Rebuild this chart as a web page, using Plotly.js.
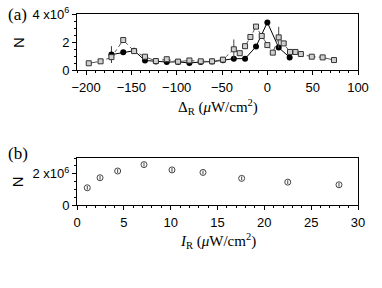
<!DOCTYPE html>
<html>
<head>
<meta charset="utf-8">
<script src="https://cdn.plot.ly/plotly-3.0.1.min.js"></script>
<style>html,body{margin:0;padding:0;background:#fff;}#chart{width:382px;height:288px;}</style>
</head>
<body>
<div id="chart"></div>
<script>
// Panel (a): detuning scan
const sqX = [-197, -184, -172, -159, -147, -135, -123, -111, -98.5, -86, -73.5, -61, -49, -37, -30.5, -24.6, -18.7, -12.5, -6.2, 0, 6, 12.5, 18, 25, 31, 37, 49, 61, 73.5];
const sqY = [0.48, 0.62, 0.92, 2.14, 1.35, 0.95, 0.64, 0.77, 0.6, 0.68, 0.62, 0.62, 0.74, 1.48, 1.2, 1.7, 2.36, 3.1, 2.43, 1.78, 1.24, 2.33, 1.9, 1.29, 1.29, 1.14, 0.95, 0.9, 0.71];
const sqErr = [0.08, 0.1, 0.1, 0.12, 0.1, 0.1, 0.08, 0.1, 0.08, 0.08, 0.08, 0.08, 0.08, 0.7, 0.1, 0.1, 0.12, 0.12, 0.12, 0.1, 0.1, 0.75, 0.1, 0.08, 0.08, 0.08, 0.08, 0.08, 0.08];
const ciX = [-172, -159, -147, -135, -123, -111, -98.5, -86, -73.5, -61, -49, -37, -24.6, -12.5, 0, 12.5, 24.6];
const ciY = [1.1, 1.27, 1.38, 0.68, 0.6, 0.57, 0.58, 0.5, 0.57, 0.6, 0.69, 0.81, 0.81, 1.67, 3.4, 1.6, 0.9];
const ciErr = [0.6, 0, 0, 0, 0, 0, 0, 0, 0, 0, 0, 0, 0, 0, 0, 0, 0];
// Panel (b): intensity scan
const bX = [1.1, 2.46, 4.34, 7.15, 10.14, 13.45, 17.58, 22.5, 27.97];
const bY = [1.1, 1.74, 2.17, 2.58, 2.24, 2.08, 1.7, 1.46, 1.29];
const bErr = [0.12, 0.12, 0.12, 0.12, 0.12, 0.12, 0.12, 0.12, 0.12];
const yTicksA = [0, 2, 4];
const yTextA = ['0', '2', '4 x10<sup>6</sup>'];
const yTicksB = [0, 2];
const yTextB = ['0', '2 x10<sup>6</sup>'];

const traces = [
  {x: ciX, y: ciY, xaxis: 'x', yaxis: 'y', type: 'scatter', mode: 'lines+markers',
   line: {color: '#000', width: 1},
   marker: {symbol: 'circle', size: 6, color: '#000'},
   error_y: {type: 'data', array: ciErr, visible: true, color: '#333', thickness: 1, width: 0}},
  {x: sqX, y: sqY, xaxis: 'x', yaxis: 'y', type: 'scatter', mode: 'lines+markers',
   line: {color: '#555', width: 1, dash: 'dashdot'},
   marker: {symbol: 'square', size: 5, color: '#d0d0d0', line: {color: '#333', width: 1}},
   error_y: {type: 'data', array: sqErr, visible: true, color: '#444', thickness: 1, width: 0}},
  {x: bX, y: bY, xaxis: 'x2', yaxis: 'y2', type: 'scatter', mode: 'markers',
   marker: {symbol: 'circle-open', size: 6, color: '#444', line: {width: 1}},
   error_y: {type: 'data', array: bErr, visible: true, color: '#444', thickness: 1, width: 0}}
];

const axCommon = {showline: true, linecolor: '#000', linewidth: 1, mirror: true,
  ticks: 'outside', ticklen: 4, tickcolor: '#000', showgrid: false, zeroline: false,
  tickfont: {family: 'Liberation Sans, Arial, sans-serif', size: 13, color: '#000'}};

const ann = (text, x, y, size, family, angle) => ({text: text, xref: 'paper', yref: 'paper', x: x, y: y,
  xanchor: 'center', yanchor: 'middle', showarrow: false, textangle: angle || 0,
  font: {family: family, size: size, color: '#000'}});
const SERIF = 'Liberation Serif, serif';
const SANS = 'Liberation Sans, Arial, sans-serif';

const layout = {
  width: 382, height: 288,
  margin: {l: 77, r: 24, t: 14, b: 83},
  paper_bgcolor: '#fff', plot_bgcolor: '#fff',
  showlegend: false,
  xaxis: Object.assign({}, axCommon, {domain: [0, 1], anchor: 'y', range: [-210, 100], dtick: 50, tick0: 0,
    ticklabelstandoff: 1,
    minor: {dtick: 10, ticks: 'outside', ticklen: 2, tickcolor: '#000'}}),
  yaxis: Object.assign({}, axCommon, {domain: [0.7068, 1], anchor: 'x', range: [0, 4],
    tickmode: 'array', tickvals: yTicksA, ticktext: yTextA,
    minor: {dtick: 0.5, ticks: 'outside', ticklen: 2, tickcolor: '#000'}}),
  xaxis2: Object.assign({}, axCommon, {domain: [0, 1], anchor: 'y2', range: [0, 30], dtick: 5, tick0: 0,
    ticklabelstandoff: 1,
    minor: {dtick: 1, ticks: 'outside', ticklen: 2, tickcolor: '#000'}}),
  yaxis2: Object.assign({}, axCommon, {domain: [0, 0.246], anchor: 'x2', range: [0, 3],
    tickmode: 'array', tickvals: yTicksB, ticktext: yTextB,
    minor: {dtick: 0.5, ticks: 'outside', ticklen: 2, tickcolor: '#000'}}),
  annotations: [
    ann('(a)', -0.21, 0.997, 17, SERIF),
    ann('(b)', -0.21, 0.27, 17, SERIF),
    ann('N', -0.21, 0.853, 15, SANS, -90),
    ann('N', -0.213, 0.12, 15, SANS, -90),
    ann('Δ<sub>R</sub> (<i>μ</i>W/cm<sup>2</sup>)', 0.5, 0.515, 15, SERIF),
    ann('<i>I</i><sub>R</sub> (<i>μ</i>W/cm<sup>2</sup>)', 0.5, -0.19, 15, SERIF)
  ]
};

Plotly.newPlot('chart', traces, layout, {staticPlot: true, displayModeBar: false});
</script>
</body>
</html>
